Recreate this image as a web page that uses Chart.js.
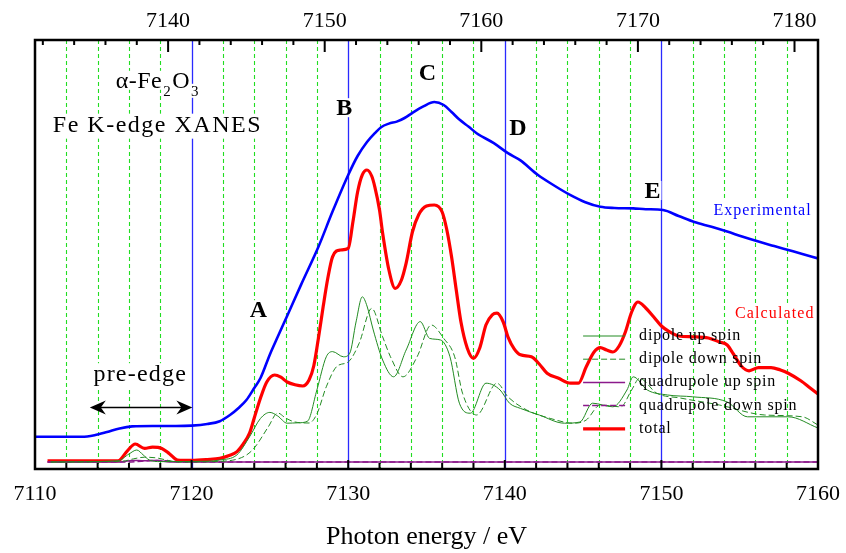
<!DOCTYPE html>
<html>
<head>
<meta charset="utf-8">
<script src="https://cdn.jsdelivr.net/npm/chart.js@4.4.1/dist/chart.umd.min.js"></script>
<style>
  html, body { margin: 0; padding: 0; background: #fff; }
  #xanes { display: block; }
</style>
</head>
<body>
<canvas id="xanes" width="846" height="553"></canvas>
<script>
// bottom axis: photon energy (eV); top axis is the same energy shifted by topOffset
const bottomTicks = [7110, 7120, 7130, 7140, 7150, 7160];
const topTicks = [7140, 7150, 7160, 7170, 7180];
const topOffset = 21.5;

// experimental spectrum
const expE = [7110.0, 7111.5, 7113.0, 7113.8, 7114.6, 7115.4, 7116.2, 7117.5, 7119.0, 7120.0,
  7121.0, 7121.8, 7122.45, 7123.0, 7123.5, 7124.0, 7124.4, 7125.0, 7125.5, 7126.1,
  7127.0, 7128.1, 7129.0, 7130.0, 7130.6, 7131.2, 7131.7, 7132.1, 7132.6, 7133.1,
  7133.6, 7134.1, 7134.8, 7135.5, 7136.1, 7136.6, 7137.1, 7137.7, 7138.2, 7139.3,
  7140.2, 7141.0, 7142.1, 7143.2, 7144.2, 7145.1, 7146.1, 7147.0, 7148.2, 7149.0,
  7150.1, 7151.1, 7152.1, 7153.2, 7154.2, 7155.2, 7156.2, 7157.2, 7158.1, 7159.0, 7160.0];
const expMu = [0.063, 0.063, 0.063, 0.067, 0.075, 0.084, 0.089, 0.090, 0.090, 0.091,
  0.095, 0.102, 0.1175, 0.135, 0.155, 0.185, 0.210, 0.269, 0.313, 0.365,
  0.444, 0.538, 0.626, 0.7175, 0.765, 0.800, 0.822, 0.837, 0.846, 0.851,
  0.860, 0.873, 0.889, 0.900, 0.8925, 0.875, 0.856, 0.838, 0.822, 0.797,
  0.772, 0.754, 0.718, 0.690, 0.667, 0.650, 0.638, 0.635, 0.634, 0.632,
  0.630, 0.615, 0.600, 0.588, 0.576, 0.563, 0.551, 0.540, 0.530, 0.520, 0.509];

// calculated total
const totE = [7110.8, 7115.3, 7115.9, 7116.4, 7117.0, 7117.5, 7118.1, 7118.6, 7119.1, 7120.0,
  7121.0, 7121.8, 7122.4, 7122.9, 7123.3, 7123.7, 7124.0, 7124.4, 7124.8, 7125.3,
  7125.7, 7126.1, 7126.6, 7127.1, 7127.5, 7127.8, 7128.1, 7128.4, 7128.7, 7129.0,
  7129.5, 7130.0, 7130.3, 7130.6, 7130.9, 7131.2, 7131.5, 7131.7, 7132.0, 7132.2,
  7132.6, 7133.0, 7133.4, 7133.7, 7134.1, 7134.5, 7135.0, 7135.5, 7136.0, 7136.3,
  7136.6, 7136.9, 7137.2, 7137.6, 7138.0, 7138.4, 7138.8, 7139.2, 7139.5, 7139.9,
  7140.2, 7140.6, 7141.0, 7141.7, 7142.2, 7142.7, 7143.4, 7144.2, 7144.7, 7145.2,
  7145.7, 7146.1, 7146.5, 7146.9, 7147.3, 7147.7, 7148.1, 7148.5, 7149.0, 7149.5,
  7150.0, 7150.5, 7151.1, 7152.0, 7153.0, 7153.7, 7154.2, 7154.6, 7155.1, 7155.6,
  7156.2, 7157.0, 7157.6, 7158.1, 7158.9, 7159.5, 7160.0];
const totMu = [0.003, 0.003, 0.028, 0.045, 0.034, 0.037, 0.034, 0.020, 0.005, 0.004,
  0.006, 0.009, 0.016, 0.026, 0.045, 0.072, 0.110, 0.160, 0.200, 0.2175,
  0.212, 0.200, 0.193, 0.190, 0.205, 0.240, 0.310, 0.388, 0.460, 0.513,
  0.530, 0.534, 0.600, 0.675, 0.718, 0.730, 0.715, 0.688, 0.630, 0.572,
  0.480, 0.434, 0.455, 0.497, 0.575, 0.618, 0.640, 0.6425, 0.625, 0.580,
  0.513, 0.430, 0.350, 0.285, 0.259, 0.285, 0.343, 0.368, 0.372, 0.350,
  0.313, 0.283, 0.268, 0.263, 0.245, 0.222, 0.210, 0.197, 0.197, 0.238,
  0.275, 0.286, 0.280, 0.275, 0.290, 0.325, 0.375, 0.400, 0.385, 0.363,
  0.340, 0.326, 0.315, 0.313, 0.310, 0.300, 0.2925, 0.270, 0.240, 0.228,
  0.236, 0.236, 0.230, 0.222, 0.203, 0.185, 0.170];

// dipole up spin
const dUpE = [7111.0, 7115.3, 7116.0, 7116.5, 7116.9, 7117.3, 7118.0, 7121.0, 7121.8, 7122.9,
  7123.7, 7124.4, 7125.0, 7125.5, 7126.1, 7126.8, 7127.4, 7128.0, 7128.6, 7129.0,
  7129.7, 7130.1, 7130.5, 7130.9, 7131.2, 7131.6, 7132.2, 7132.9, 7133.7, 7134.6,
  7135.2, 7135.9, 7136.5, 7137.1, 7137.8, 7138.8, 7139.7, 7140.3, 7141.0, 7142.2,
  7143.8, 7144.8, 7145.6, 7146.9, 7147.8, 7148.2, 7149.1, 7150.4, 7152.0, 7154.2,
  7155.5, 7158.1, 7160.0];
const dUpMu = [0, 0.003, 0.020, 0.030, 0.018, 0.005, 0.001, 0.002, 0.005, 0.018,
  0.063, 0.109, 0.124, 0.115, 0.097, 0.098, 0.102, 0.180, 0.263, 0.276,
  0.263, 0.272, 0.350, 0.413, 0.390, 0.330, 0.255, 0.213, 0.280, 0.351,
  0.309, 0.305, 0.263, 0.147, 0.122, 0.197, 0.180, 0.147, 0.134, 0.1175,
  0.097, 0.100, 0.147, 0.138, 0.180, 0.213, 0.180, 0.1675, 0.163, 0.150,
  0.113, 0.113, 0.085];

// dipole down spin
const dDnE = [7111.0, 7115.6, 7116.3, 7117.0, 7117.8, 7118.5, 7119.2, 7122.0, 7123.4, 7124.0,
  7124.9, 7125.5, 7126.0, 7126.6, 7127.5, 7128.0, 7128.6, 7129.3, 7130.0, 7130.7,
  7131.5, 7132.2, 7132.7, 7133.5, 7134.4, 7135.3, 7136.1, 7136.8, 7137.3, 7138.2,
  7139.5, 7140.2, 7141.4, 7142.9, 7144.4, 7145.2, 7146.1, 7147.4, 7148.1, 7148.6,
  7149.7, 7151.2, 7153.7, 7156.6, 7159.0, 7160.0];
const dDnMu = [0, 0.002, 0.008, 0.012, 0.010, 0.004, 0, 0.002, 0.015, 0.035,
  0.088, 0.1225, 0.110, 0.100, 0.0975, 0.120, 0.188, 0.240, 0.250, 0.297,
  0.384, 0.313, 0.263, 0.213, 0.263, 0.3425, 0.309, 0.263, 0.172, 0.1175,
  0.197, 0.163, 0.130, 0.109, 0.097, 0.105, 0.1425, 0.138, 0.180, 0.209,
  0.172, 0.160, 0.1425, 0.1175, 0.113, 0.0925];

// quadrupole up / down spin
const qUpE = [7110.8, 7115.4, 7116.2, 7117.0, 7117.8, 7118.6, 7160.0];
const qUpMu = [0, 0, 0.004, 0.003, 0.004, 0, 0];
const qDnE = [7110.8, 7115.8, 7116.8, 7117.6, 7118.4, 7119.2, 7160.0];
const qDnMu = [0, 0, 0.002, 0.004, 0.003, 0, 0];

const SERIF = '"Liberation Serif", "Times New Roman", serif';
const GREEN = '#228b22';
const PURPLE = '#8b1a8b';

function pts(xs, ys) {
    return xs.map((x, i) => ({ x: x, y: ys[i] }));
}

function textWithBox(ctx, str, x, y) {
    // white box behind the text, so grid lines stop at the label
    const m = ctx.measureText(str);
    ctx.fillStyle = '#fff';
    ctx.fillRect(x - 1, y - m.actualBoundingBoxAscent - 2,
        m.width + 2, m.actualBoundingBoxAscent + m.actualBoundingBoxDescent + 4);
}

const decor = {
    id: 'decor',
    beforeDatasetsDraw(chart) {
        const { ctx, chartArea: a, scales: { x, y } } = chart;
        ctx.save();
        // green dashed grid every 2 eV, blue solid every 10 eV
        for (let e = 7112; e < 7160; e += 2) {
            const px = Math.round(x.getPixelForValue(e)) + 0.5;
            ctx.beginPath();
            if (e % 10 === 0) {
                ctx.strokeStyle = '#2a2aff';
                ctx.lineWidth = 1.3;
                ctx.setLineDash([]);
            } else {
                ctx.strokeStyle = '#22dd22';
                ctx.lineWidth = 1.1;
                ctx.setLineDash([4, 3]);
            }
            ctx.moveTo(px, a.top);
            ctx.lineTo(px, a.bottom);
            ctx.stroke();
        }
        ctx.setLineDash([]);

        // annotations with white background
        ctx.textBaseline = 'alphabetic';
        const label = (str, e, v, font, color, spacing, align) => {
            ctx.font = font;
            ctx.letterSpacing = spacing;
            const w = ctx.measureText(str).width;
            let px = x.getPixelForValue(e);
            if (align === 'center') px -= w / 2;
            const py = y.getPixelForValue(v);
            textWithBox(ctx, str, px, py);
            ctx.fillStyle = color;
            ctx.textAlign = 'left';
            ctx.fillText(str, px, py);
        };
        label('A', 7124.26, 0.362, 'bold 24px ' + SERIF, '#000', '0px', 'center');
        label('B', 7129.75, 0.867, 'bold 24px ' + SERIF, '#000', '0px', 'center');
        label('C', 7135.06, 0.955, 'bold 24px ' + SERIF, '#000', '0px', 'center');
        label('D', 7140.84, 0.818, 'bold 24px ' + SERIF, '#000', '0px', 'center');
        label('E', 7149.43, 0.66, 'bold 24px ' + SERIF, '#000', '0px', 'center');
        label('Fe K-edge XANES', 7111.14, 0.8258, '24px ' + SERIF, '#000', '1.5px', 'left');
        label('pre-edge', 7116.72, 0.202, '24px ' + SERIF, '#000', '1.2px', 'center');
        label('Experimental', 7156.46, 0.6175, '16px ' + SERIF, '#0000ff', '1px', 'center');
        label('Calculated', 7157.24, 0.36, '16px ' + SERIF, '#ff0000', '1.1px', 'center');

        // alpha-Fe2O3 with subscripts
        let px = x.getPixelForValue(7115.15);
        const py = y.getPixelForValue(0.9355);
        const parts = [['\u03b1-Fe', 0, 24], ['2', 8, 15], ['O', 0, 24], ['3', 8, 15]];
        ctx.letterSpacing = '0.5px';
        for (const [s, dy, size] of parts) {
            ctx.font = size + 'px ' + SERIF;
            textWithBox(ctx, s, px, py + dy);
            ctx.fillStyle = '#000';
            ctx.fillText(s, px, py + dy);
            px += ctx.measureText(s).width + 1;
        }
        ctx.letterSpacing = '0px';

        // pre-edge double arrow
        const ax1 = x.getPixelForValue(7113.5), ax2 = x.getPixelForValue(7120.05);
        const ay = y.getPixelForValue(0.136);
        ctx.strokeStyle = '#000';
        ctx.fillStyle = '#000';
        ctx.lineWidth = 1.5;
        ctx.beginPath();
        ctx.moveTo(ax1 + 6, ay);
        ctx.lineTo(ax2 - 6, ay);
        ctx.stroke();
        for (const [tip, dir] of [[ax1, 1], [ax2, -1]]) {
            ctx.beginPath();
            ctx.moveTo(tip, ay);
            ctx.lineTo(tip + dir * 16, ay - 7);
            ctx.lineTo(tip + dir * 11, ay);
            ctx.lineTo(tip + dir * 16, ay + 7);
            ctx.closePath();
            ctx.fill();
        }
        ctx.restore();
    },
    afterDatasetsDraw(chart) {
        const { ctx, chartArea: a, scales: { x, x2, y } } = chart;
        ctx.save();
        // legend
        const lx = x.getPixelForValue(7145.0);
        const ly = y.getPixelForValue(0.315);
        ctx.font = '16px ' + SERIF;
        ctx.letterSpacing = '0.8px';
        ctx.textBaseline = 'alphabetic';
        chart.data.datasets.slice(0, 5).forEach((ds, i) => {
            const rowY = ly + i * 23.2;
            ctx.strokeStyle = ds.borderColor;
            ctx.lineWidth = ds.borderWidth;
            ctx.setLineDash(ds.borderDash || []);
            ctx.beginPath();
            ctx.moveTo(lx, rowY);
            ctx.lineTo(lx + 42, rowY);
            ctx.stroke();
            ctx.setLineDash([]);
            ctx.fillStyle = '#000';
            ctx.fillText(ds.label, lx + 56, rowY + 4);
        });
        ctx.letterSpacing = '0px';

        // frame
        ctx.strokeStyle = '#000';
        ctx.lineWidth = 2.5;
        ctx.strokeRect(a.left, a.top, a.right - a.left, a.bottom - a.top);

        // inward ticks, bottom and top
        ctx.lineWidth = 2;
        ctx.beginPath();
        for (let e = 7112; e < 7160; e += 2) {
            const px = x.getPixelForValue(e);
            const len = e % 10 === 0 ? 9 : 6;
            ctx.moveTo(px, a.bottom);
            ctx.lineTo(px, a.bottom - len);
        }
        for (let t = 7132; t <= 7180; t += 2) {
            const px = x2.getPixelForValue(t);
            const len = t % 10 === 0 ? 12 : 5;
            ctx.moveTo(px, a.top);
            ctx.lineTo(px, a.top + len);
        }
        ctx.stroke();
        ctx.restore();
    }
};

const ctx = document.getElementById('xanes').getContext('2d');
new Chart(ctx, {
    type: 'line',
    data: {
        datasets: [
            { label: 'dipole up spin', data: pts(dUpE, dUpMu), borderColor: GREEN, borderWidth: 1 },
            { label: 'dipole down spin', data: pts(dDnE, dDnMu), borderColor: GREEN, borderWidth: 1, borderDash: [6, 3] },
            { label: 'quadrupole up spin', data: pts(qUpE, qUpMu), borderColor: PURPLE, borderWidth: 1.5 },
            { label: 'quadrupole down spin', data: pts(qDnE, qDnMu), borderColor: PURPLE, borderWidth: 1.5, borderDash: [6, 3] },
            { label: 'total', data: pts(totE, totMu), borderColor: '#ff0000', borderWidth: 3.2 },
            { label: 'Experimental', data: pts(expE, expMu), borderColor: '#0000ff', borderWidth: 2.6 }
        ]
    },
    options: {
        responsive: false,
        animation: false,
        events: [],
        layout: { padding: { left: 35, right: 28, top: 0, bottom: 0 } },
        elements: {
            point: { radius: 0 },
            line: { cubicInterpolationMode: 'monotone', fill: false }
        },
        plugins: {
            legend: { display: false },
            tooltip: { enabled: false }
        },
        scales: {
            x: {
                type: 'linear',
                position: 'bottom',
                min: 7110,
                max: 7160,
                afterBuildTicks: s => { s.ticks = bottomTicks.map(v => ({ value: v })); },
                afterFit: s => { s.height = 84; },
                grid: { display: false },
                border: { display: false },
                ticks: {
                    color: '#000',
                    font: { family: SERIF, size: 22 },
                    padding: 4,
                    maxRotation: 0,
                    autoSkip: false,
                    callback: v => String(v)
                },
                title: {
                    display: true,
                    text: 'Photon energy / eV',
                    color: '#000',
                    font: { family: SERIF, size: 26 },
                    padding: { top: 0, bottom: 0 }
                }
            },
            x2: {
                type: 'linear',
                position: 'top',
                min: 7110 + topOffset,
                max: 7160 + topOffset,
                afterBuildTicks: s => { s.ticks = topTicks.map(v => ({ value: v })); },
                afterFit: s => { s.height = 40; },
                grid: { display: false },
                border: { display: false },
                ticks: {
                    color: '#000',
                    font: { family: SERIF, size: 22 },
                    padding: -2,
                    maxRotation: 0,
                    autoSkip: false,
                    callback: v => String(v)
                }
            },
            y: {
                display: false,
                min: -0.0175,
                max: 1.055
            }
        }
    },
    plugins: [decor]
});
</script>
</body>
</html>
